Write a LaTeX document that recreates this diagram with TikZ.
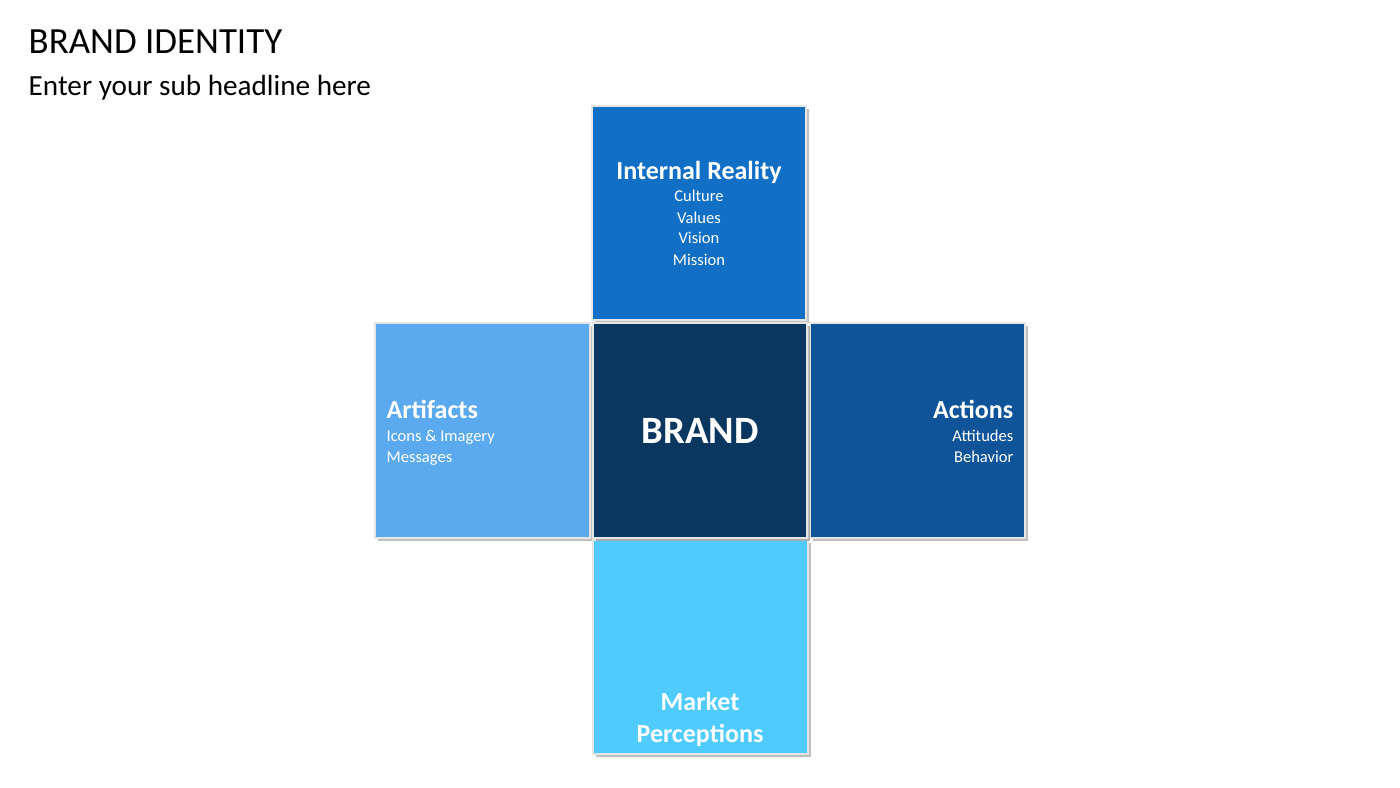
\documentclass[tikz,border=0pt]{standalone}
\usepackage{fontspec}
\setmainfont{Carlito}
\definecolor{ctop}{HTML}{1170C6}
\definecolor{cmid}{HTML}{0A3760}
\definecolor{cleft}{HTML}{5BAAF0}
\definecolor{cright}{HTML}{0F5499}
\definecolor{cbot}{HTML}{4FCBFD}
\begin{document}
\begin{tikzpicture}[x=0.01cm,y=-0.01cm,
  box/.style={draw=white!80!gray,line width=0.4pt},
  head/.style={text=white,font=\fontsize{7.4}{8}\selectfont\bfseries,inner sep=0pt},
  item/.style={text=white,font=\fontsize{4.7}{6}\selectfont,inner sep=0pt}]
\useasboundingbox (0,0) rectangle (1400,788);
\foreach \a/\b/\c/\d/\col in {592/106/806/320/ctop,375/323/590/538/cleft,810/323/1025/538/cright,593/540/808/754/cbot,593/323/807/538/cmid}{
  \fill[black,opacity=0.25] (\a+3,\b+3) rectangle (\c+3,\d+3);
  \fill[\col,box] (\a,\b) rectangle (\c,\d);
}
\node[anchor=base west,inner sep=0pt,font=\fontsize{10.5}{12}\selectfont] (title) at (28,54) {BRAND IDENTITY};
\node[anchor=base west,inner sep=0pt,font=\fontsize{8.3}{9}\selectfont] (sub) at (28,96) {Enter your sub headline here};
\node[head,anchor=base] (ir) at (699,180) {Internal Reality};
\node[item,anchor=base] (i1) at (699,202) {Culture};
\node[item,anchor=base] (i2) at (699,223) {Values};
\node[item,anchor=base] (i3) at (699,244) {Vision};
\node[item,anchor=base] (i4) at (699,265) {Mission};
\node[head,anchor=base west] (art) at (386,418) {Artifacts};
\node[item,anchor=base west] (a1) at (386,441) {Icons \& Imagery};
\node[item,anchor=base west] (a2) at (386,462) {Messages};
\node[head,anchor=base east] (act) at (1014,418) {Actions};
\node[item,anchor=base east] (c1) at (1014,441) {Attitudes};
\node[item,anchor=base east] (c2) at (1014,462) {Behavior};
\node[text=white,font=\fontsize{11}{13}\selectfont\bfseries] (brand) at (700,431) {BRAND};
\node[head,anchor=base] (mp1) at (700,710) {Market};
\node[head,anchor=base] (mp2) at (700,742) {Perceptions};
\end{tikzpicture}
\end{document}
